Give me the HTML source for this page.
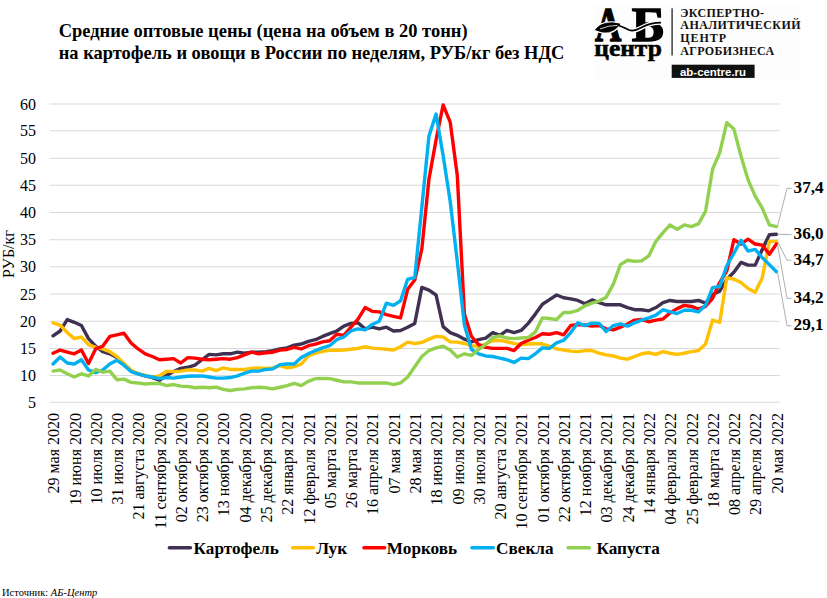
<!DOCTYPE html>
<html><head><meta charset="utf-8">
<style>
html,body{margin:0;padding:0;background:#fff;}
body{width:827px;height:598px;position:relative;overflow:hidden;}
svg{position:absolute;left:0;top:0;}
.t{font-family:"Liberation Serif",serif;font-size:16px;fill:#000;}
.ttl{font-family:"Liberation Serif",serif;font-size:18.45px;font-weight:bold;fill:#000;}
.vb{font-family:"Liberation Serif",serif;font-size:17.2px;font-weight:bold;fill:#000;}
.lgA{font-family:"Liberation Serif",serif;font-size:48px;font-weight:bold;fill:#000;stroke:#000;stroke-width:1.4px;}
.lgc{font-family:"Liberation Serif",serif;font-size:24px;font-weight:bold;fill:#000;stroke:#000;stroke-width:0.6px;}
.lgt{font-family:"Liberation Serif",serif;font-size:12px;font-weight:bold;fill:#111;}
.lgu{font-family:"Liberation Sans",sans-serif;font-size:11.6px;font-weight:bold;fill:#fff;}
.src{font-family:"Liberation Serif",serif;font-size:10.5px;fill:#000;}
</style></head><body>
<svg width="827" height="598" viewBox="0 0 827 598">
<text x="58.7" y="37.1" class="ttl">Средние оптовые цены (цена на объем в 20 тонн)</text>
<text x="58.7" y="58.8" class="ttl">на картофель и овощи в России по неделям, РУБ/кг без НДС</text>
<line x1="49.5" y1="402.30" x2="780.0" y2="402.30" stroke="#D9D9D9" stroke-width="1.05"/>
<line x1="49.5" y1="375.40" x2="780.0" y2="375.40" stroke="#D9D9D9" stroke-width="1.05"/>
<line x1="49.5" y1="348.40" x2="780.0" y2="348.40" stroke="#D9D9D9" stroke-width="1.05"/>
<line x1="49.5" y1="321.20" x2="780.0" y2="321.20" stroke="#D9D9D9" stroke-width="1.05"/>
<line x1="49.5" y1="293.90" x2="780.0" y2="293.90" stroke="#D9D9D9" stroke-width="1.05"/>
<line x1="49.5" y1="266.80" x2="780.0" y2="266.80" stroke="#D9D9D9" stroke-width="1.05"/>
<line x1="49.5" y1="239.70" x2="780.0" y2="239.70" stroke="#D9D9D9" stroke-width="1.05"/>
<line x1="49.5" y1="212.40" x2="780.0" y2="212.40" stroke="#D9D9D9" stroke-width="1.05"/>
<line x1="49.5" y1="185.30" x2="780.0" y2="185.30" stroke="#D9D9D9" stroke-width="1.05"/>
<line x1="49.5" y1="158.20" x2="780.0" y2="158.20" stroke="#D9D9D9" stroke-width="1.05"/>
<line x1="49.5" y1="130.70" x2="780.0" y2="130.70" stroke="#D9D9D9" stroke-width="1.05"/>
<line x1="49.5" y1="103.90" x2="780.0" y2="103.90" stroke="#D9D9D9" stroke-width="1.05"/>
<text x="35.9" y="407.90" text-anchor="end" class="t">5</text>
<text x="35.9" y="381.00" text-anchor="end" class="t">10</text>
<text x="35.9" y="354.00" text-anchor="end" class="t">15</text>
<text x="35.9" y="326.80" text-anchor="end" class="t">20</text>
<text x="35.9" y="299.50" text-anchor="end" class="t">25</text>
<text x="35.9" y="272.40" text-anchor="end" class="t">30</text>
<text x="35.9" y="245.30" text-anchor="end" class="t">35</text>
<text x="35.9" y="218.00" text-anchor="end" class="t">40</text>
<text x="35.9" y="190.90" text-anchor="end" class="t">45</text>
<text x="35.9" y="163.80" text-anchor="end" class="t">50</text>
<text x="35.9" y="136.30" text-anchor="end" class="t">55</text>
<text x="35.9" y="109.50" text-anchor="end" class="t">60</text>
<text transform="translate(59.25,413.0) rotate(-90)" text-anchor="end" class="t">29 мая 2020</text>
<text transform="translate(80.52,413.0) rotate(-90)" text-anchor="end" class="t">19 июня 2020</text>
<text transform="translate(101.80,413.0) rotate(-90)" text-anchor="end" class="t">10 июля 2020</text>
<text transform="translate(123.08,413.0) rotate(-90)" text-anchor="end" class="t">31 июля 2020</text>
<text transform="translate(144.35,413.0) rotate(-90)" text-anchor="end" class="t">21 августа 2020</text>
<text transform="translate(165.63,413.0) rotate(-90)" text-anchor="end" class="t">11 сентября 2020</text>
<text transform="translate(186.91,413.0) rotate(-90)" text-anchor="end" class="t">02 октября 2020</text>
<text transform="translate(208.18,413.0) rotate(-90)" text-anchor="end" class="t">23 октября 2020</text>
<text transform="translate(229.46,413.0) rotate(-90)" text-anchor="end" class="t">13 ноября 2020</text>
<text transform="translate(250.74,413.0) rotate(-90)" text-anchor="end" class="t">04 декабря 2020</text>
<text transform="translate(272.01,413.0) rotate(-90)" text-anchor="end" class="t">25 декабря 2020</text>
<text transform="translate(293.29,413.0) rotate(-90)" text-anchor="end" class="t">22 января 2021</text>
<text transform="translate(314.57,413.0) rotate(-90)" text-anchor="end" class="t">12 февраля 2021</text>
<text transform="translate(335.84,413.0) rotate(-90)" text-anchor="end" class="t">05 марта 2021</text>
<text transform="translate(357.12,413.0) rotate(-90)" text-anchor="end" class="t">26 марта 2021</text>
<text transform="translate(378.40,413.0) rotate(-90)" text-anchor="end" class="t">16 апреля 2021</text>
<text transform="translate(399.67,413.0) rotate(-90)" text-anchor="end" class="t">07 мая 2021</text>
<text transform="translate(420.95,413.0) rotate(-90)" text-anchor="end" class="t">28 мая 2021</text>
<text transform="translate(442.23,413.0) rotate(-90)" text-anchor="end" class="t">18 июня 2021</text>
<text transform="translate(463.50,413.0) rotate(-90)" text-anchor="end" class="t">09 июля 2021</text>
<text transform="translate(484.78,413.0) rotate(-90)" text-anchor="end" class="t">30 июля 2021</text>
<text transform="translate(506.06,413.0) rotate(-90)" text-anchor="end" class="t">20 августа 2021</text>
<text transform="translate(527.33,413.0) rotate(-90)" text-anchor="end" class="t">10 сентября 2021</text>
<text transform="translate(548.61,413.0) rotate(-90)" text-anchor="end" class="t">01 октября 2021</text>
<text transform="translate(569.89,413.0) rotate(-90)" text-anchor="end" class="t">22 октября 2021</text>
<text transform="translate(591.16,413.0) rotate(-90)" text-anchor="end" class="t">12 ноября 2021</text>
<text transform="translate(612.44,413.0) rotate(-90)" text-anchor="end" class="t">03 декабря 2021</text>
<text transform="translate(633.72,413.0) rotate(-90)" text-anchor="end" class="t">24 декабря 2021</text>
<text transform="translate(654.99,413.0) rotate(-90)" text-anchor="end" class="t">14 января 2022</text>
<text transform="translate(676.27,413.0) rotate(-90)" text-anchor="end" class="t">04 февраля 2022</text>
<text transform="translate(697.55,413.0) rotate(-90)" text-anchor="end" class="t">25 февраля 2022</text>
<text transform="translate(718.82,413.0) rotate(-90)" text-anchor="end" class="t">18 марта 2022</text>
<text transform="translate(740.10,413.0) rotate(-90)" text-anchor="end" class="t">08 апреля 2022</text>
<text transform="translate(761.38,413.0) rotate(-90)" text-anchor="end" class="t">29 апреля 2022</text>
<text transform="translate(782.65,413.0) rotate(-90)" text-anchor="end" class="t">20 мая 2022</text>
<text transform="translate(13.8,254) rotate(-90)" text-anchor="middle" class="t">РУБ/кг</text>
<path d="M53.05,335.89 L60.14,330.99 L67.23,319.56 L74.32,322.29 L81.42,325.55 L88.51,338.61 L95.60,346.22 L102.69,351.64 L109.78,353.80 L116.88,357.58 L123.97,364.06 L131.06,371.08 L138.15,373.78 L145.25,375.94 L152.34,377.55 L159.43,380.24 L166.52,375.40 L173.61,371.62 L180.71,368.38 L187.80,367.30 L194.89,365.14 L201.98,359.74 L209.08,354.34 L216.17,354.88 L223.26,353.80 L230.35,353.80 L237.44,352.18 L244.54,353.26 L251.63,352.18 L258.72,352.18 L265.81,351.64 L272.91,350.56 L280.00,348.94 L287.09,347.86 L294.18,345.14 L301.27,344.05 L308.37,341.33 L315.46,339.70 L322.55,336.43 L329.64,333.71 L336.74,330.99 L343.83,326.10 L350.92,323.38 L358.01,322.83 L365.10,328.82 L372.20,327.18 L379.29,328.82 L386.38,327.18 L393.47,330.99 L400.57,330.45 L407.66,327.18 L414.75,323.38 L421.84,287.40 L428.93,290.11 L436.03,294.99 L443.12,326.64 L450.21,332.62 L457.30,335.34 L464.40,339.15 L471.49,341.87 L478.58,339.70 L485.67,338.06 L492.76,332.62 L499.86,335.34 L506.95,330.45 L514.04,332.62 L521.13,330.45 L528.23,323.38 L535.32,314.10 L542.41,304.27 L549.50,299.63 L556.59,294.99 L563.69,297.72 L570.78,298.81 L577.87,300.45 L584.96,303.73 L592.06,299.91 L599.15,302.64 L606.24,304.82 L613.33,304.82 L620.42,304.82 L627.52,307.55 L634.61,309.73 L641.70,309.73 L648.79,310.83 L655.89,307.55 L662.98,302.64 L670.07,300.45 L677.16,301.54 L684.25,301.54 L691.35,301.54 L698.44,300.45 L705.53,303.18 L712.62,294.45 L719.72,291.19 L726.81,279.27 L733.90,272.22 L740.99,262.46 L748.08,265.17 L755.18,265.17 L762.27,249.46 L769.36,234.79 L776.45,234.24" fill="none" stroke="#403152" stroke-width="3.4" stroke-linejoin="round" stroke-linecap="round"/>
<path d="M53.05,322.83 L60.14,325.01 L67.23,332.62 L74.32,338.61 L81.42,336.98 L88.51,344.59 L95.60,347.31 L102.69,348.94 L109.78,351.64 L116.88,356.50 L123.97,363.52 L131.06,370.00 L138.15,373.78 L145.25,375.40 L152.34,377.01 L159.43,375.94 L166.52,371.08 L173.61,371.62 L180.71,371.08 L187.80,370.00 L194.89,370.00 L201.98,371.08 L209.08,368.38 L216.17,370.54 L223.26,367.84 L230.35,369.46 L237.44,369.46 L244.54,369.46 L251.63,368.38 L258.72,367.84 L265.81,368.38 L272.91,367.84 L280.00,365.68 L287.09,367.84 L294.18,366.76 L301.27,364.06 L308.37,355.96 L315.46,353.26 L322.55,351.37 L329.64,350.29 L336.74,350.29 L343.83,350.02 L350.92,349.21 L358.01,348.40 L365.10,346.77 L372.20,348.13 L379.29,348.67 L386.38,349.21 L393.47,350.02 L400.57,346.77 L407.66,342.14 L414.75,343.50 L421.84,342.42 L428.93,339.15 L436.03,336.43 L443.12,336.98 L450.21,341.87 L457.30,342.14 L464.40,343.50 L471.49,345.68 L478.58,346.22 L485.67,344.05 L492.76,340.78 L499.86,340.24 L506.95,341.87 L514.04,343.50 L521.13,344.59 L528.23,344.05 L535.32,343.50 L542.41,344.05 L549.50,346.22 L556.59,348.94 L563.69,350.02 L570.78,351.10 L577.87,351.64 L584.96,350.56 L592.06,350.56 L599.15,353.26 L606.24,354.88 L613.33,355.96 L620.42,358.12 L627.52,359.20 L634.61,356.50 L641.70,353.80 L648.79,352.72 L655.89,354.34 L662.98,351.64 L670.07,353.26 L677.16,354.34 L684.25,353.26 L691.35,351.64 L698.44,350.56 L705.53,344.05 L712.62,320.11 L719.72,322.29 L726.81,277.64 L733.90,279.27 L740.99,282.52 L748.08,288.48 L755.18,292.27 L762.27,277.64 L769.36,241.33 L776.45,241.33" fill="none" stroke="#FFC000" stroke-width="3.4" stroke-linejoin="round" stroke-linecap="round"/>
<path d="M53.05,353.26 L60.14,350.02 L67.23,352.18 L74.32,353.80 L81.42,350.02 L88.51,363.52 L95.60,348.94 L102.69,346.22 L109.78,336.43 L116.88,334.80 L123.97,333.17 L131.06,342.96 L138.15,348.94 L145.25,353.80 L152.34,356.50 L159.43,359.74 L166.52,359.20 L173.61,358.66 L180.71,362.98 L187.80,357.58 L194.89,358.12 L201.98,359.20 L209.08,359.74 L216.17,359.20 L223.26,358.66 L230.35,359.20 L237.44,357.58 L244.54,354.88 L251.63,352.18 L258.72,353.80 L265.81,352.72 L272.91,352.18 L280.00,350.02 L287.09,349.48 L294.18,347.31 L301.27,348.94 L308.37,345.68 L315.46,344.05 L322.55,341.87 L329.64,340.78 L336.74,334.26 L343.83,335.34 L350.92,327.18 L358.01,319.02 L365.10,307.55 L372.20,311.37 L379.29,311.92 L386.38,314.65 L393.47,316.29 L400.57,317.92 L407.66,289.29 L414.75,280.08 L421.84,248.91 L428.93,179.34 L436.03,140.05 L443.12,104.97 L450.21,122.12 L457.30,175.54 L464.40,314.10 L471.49,336.43 L478.58,344.59 L485.67,347.31 L492.76,348.40 L499.86,348.40 L506.95,348.40 L514.04,350.56 L521.13,343.50 L528.23,340.24 L535.32,337.52 L542.41,333.71 L549.50,334.26 L556.59,332.62 L563.69,334.80 L570.78,325.55 L577.87,324.46 L584.96,325.01 L592.06,326.10 L599.15,325.55 L606.24,328.82 L613.33,329.90 L620.42,327.18 L627.52,323.92 L634.61,320.11 L641.70,319.56 L648.79,321.74 L655.89,320.11 L662.98,319.02 L670.07,313.01 L677.16,308.64 L684.25,305.37 L691.35,306.46 L698.44,309.19 L705.53,306.46 L712.62,298.27 L719.72,282.52 L726.81,270.87 L733.90,239.70 L740.99,244.04 L748.08,239.15 L755.18,244.04 L762.27,245.12 L769.36,254.33 L776.45,244.04" fill="none" stroke="#FF0000" stroke-width="3.4" stroke-linejoin="round" stroke-linecap="round"/>
<path d="M53.05,364.06 L60.14,357.04 L67.23,362.98 L74.32,364.06 L81.42,359.74 L88.51,370.00 L95.60,372.70 L102.69,370.00 L109.78,364.06 L116.88,360.28 L123.97,365.14 L131.06,371.62 L138.15,373.78 L145.25,375.94 L152.34,377.01 L159.43,378.63 L166.52,377.55 L173.61,378.09 L180.71,377.01 L187.80,376.21 L194.89,375.94 L201.98,375.94 L209.08,377.01 L216.17,378.09 L223.26,378.09 L230.35,377.55 L237.44,375.94 L244.54,373.24 L251.63,371.08 L258.72,371.08 L265.81,369.46 L272.91,368.92 L280.00,364.60 L287.09,364.06 L294.18,364.06 L301.27,357.58 L308.37,353.80 L315.46,350.56 L322.55,347.86 L329.64,345.68 L336.74,339.70 L343.83,336.98 L350.92,330.99 L358.01,328.82 L365.10,329.90 L372.20,324.46 L379.29,321.20 L386.38,303.18 L393.47,305.37 L400.57,300.72 L407.66,279.27 L414.75,277.64 L421.84,206.98 L428.93,136.20 L436.03,114.08 L443.12,155.45 L450.21,201.56 L457.30,261.38 L464.40,325.01 L471.49,349.48 L478.58,353.80 L485.67,355.96 L492.76,356.50 L499.86,358.12 L506.95,359.74 L514.04,362.44 L521.13,358.12 L528.23,358.66 L535.32,353.80 L542.41,347.86 L549.50,348.40 L556.59,342.96 L563.69,340.24 L570.78,332.62 L577.87,322.83 L584.96,325.55 L592.06,323.10 L599.15,323.38 L606.24,331.54 L613.33,325.55 L620.42,323.92 L627.52,326.10 L634.61,322.83 L641.70,320.11 L648.79,317.92 L655.89,315.19 L662.98,309.73 L670.07,311.92 L677.16,313.56 L684.25,310.28 L691.35,310.28 L698.44,311.92 L705.53,305.37 L712.62,287.67 L719.72,286.31 L726.81,265.72 L733.90,253.25 L740.99,240.24 L748.08,251.08 L755.18,249.46 L762.27,257.59 L769.36,264.63 L776.45,271.68" fill="none" stroke="#00B0F0" stroke-width="3.4" stroke-linejoin="round" stroke-linecap="round"/>
<path d="M53.05,371.08 L60.14,370.00 L67.23,373.78 L74.32,377.01 L81.42,373.78 L88.51,375.94 L95.60,369.46 L102.69,372.16 L109.78,371.08 L116.88,379.70 L123.97,379.17 L131.06,382.39 L138.15,382.93 L145.25,384.01 L152.34,383.47 L159.43,383.47 L166.52,385.62 L173.61,384.55 L180.71,386.16 L187.80,386.43 L194.89,387.77 L201.98,387.24 L209.08,387.77 L216.17,387.24 L223.26,389.39 L230.35,390.46 L237.44,389.39 L244.54,388.85 L251.63,387.77 L258.72,387.24 L265.81,387.77 L272.91,388.85 L280.00,387.24 L287.09,385.62 L294.18,383.47 L301.27,385.62 L308.37,381.32 L315.46,378.63 L322.55,378.36 L329.64,378.63 L336.74,380.24 L343.83,381.86 L350.92,381.86 L358.01,382.93 L365.10,382.93 L372.20,382.93 L379.29,382.93 L386.38,382.93 L393.47,384.55 L400.57,382.93 L407.66,377.01 L414.75,366.76 L421.84,356.50 L428.93,350.56 L436.03,347.86 L443.12,346.22 L450.21,350.02 L457.30,357.04 L464.40,353.80 L471.49,355.42 L478.58,349.48 L485.67,344.59 L492.76,337.52 L499.86,335.89 L506.95,338.06 L514.04,338.61 L521.13,338.06 L528.23,337.52 L535.32,332.08 L542.41,317.92 L549.50,318.47 L556.59,319.56 L563.69,312.46 L570.78,312.46 L577.87,310.28 L584.96,305.91 L592.06,303.18 L599.15,301.00 L606.24,297.18 L613.33,284.14 L620.42,264.63 L627.52,260.30 L634.61,261.38 L641.70,260.84 L648.79,255.96 L655.89,241.33 L662.98,232.60 L670.07,224.96 L677.16,229.33 L684.25,224.96 L691.35,226.60 L698.44,223.87 L705.53,211.32 L712.62,169.04 L719.72,152.70 L726.81,122.66 L733.90,129.09 L740.99,156.00 L748.08,179.88 L755.18,196.14 L762.27,208.06 L769.36,224.96 L776.45,226.60" fill="none" stroke="#92D050" stroke-width="3.4" stroke-linejoin="round" stroke-linecap="round"/>
<polyline points="777.45,226.60 787,188.3 791.5,188.3" fill="none" stroke="#A6A6A6" stroke-width="0.9"/>
<text x="793.6" y="192.90" class="vb">37,4</text>
<polyline points="777.45,234.24 787,234.6 791.5,234.6" fill="none" stroke="#A6A6A6" stroke-width="0.9"/>
<text x="793.6" y="239.20" class="vb">36,0</text>
<polyline points="777.45,241.33 787,260.2 791.5,260.2" fill="none" stroke="#A6A6A6" stroke-width="0.9"/>
<text x="793.6" y="264.80" class="vb">34,7</text>
<polyline points="777.45,244.04 787,298.3 791.5,298.3" fill="none" stroke="#A6A6A6" stroke-width="0.9"/>
<text x="793.6" y="302.90" class="vb">34,2</text>
<polyline points="777.45,271.68 787,325.8 791.5,325.8" fill="none" stroke="#A6A6A6" stroke-width="0.9"/>
<text x="793.6" y="330.40" class="vb">29,1</text>
<line x1="169.29999999999998" y1="547.7" x2="190.5" y2="547.7" stroke="#403152" stroke-width="3.4" stroke-linecap="round"/>
<text x="193.6" y="553.7" class="vb">Картофель</text>
<line x1="292.59999999999997" y1="547.7" x2="313.40000000000003" y2="547.7" stroke="#FFC000" stroke-width="3.4" stroke-linecap="round"/>
<text x="316.2" y="553.7" class="vb">Лук</text>
<line x1="363.9" y1="547.7" x2="384.7" y2="547.7" stroke="#FF0000" stroke-width="3.4" stroke-linecap="round"/>
<text x="386.79999999999995" y="553.7" class="vb">Морковь</text>
<line x1="471.9" y1="547.7" x2="493.40000000000003" y2="547.7" stroke="#00B0F0" stroke-width="3.4" stroke-linecap="round"/>
<text x="496.09999999999997" y="553.7" class="vb">Свекла</text>
<line x1="568.1" y1="547.7" x2="589.4" y2="547.7" stroke="#92D050" stroke-width="3.4" stroke-linecap="round"/>
<text x="596.4" y="553.7" class="vb">Капуста</text>

<rect x="594" y="4" width="207" height="75" fill="#FDFDFD"/>
<g>
 <text transform="translate(595.0,40.7) scale(0.76,1)" class="lgA">А</text>
 <text transform="translate(631.8,40.7) scale(1.05,1)" class="lgA">Б</text>
 <path d="M595.3,29.8 Q603,19.8 620,24.0 Q611,37 595.3,29.8 Z" fill="#fff" stroke="#fff" stroke-width="3.2" stroke-linejoin="round"/>
 <path d="M619,25.6 Q624,27.2 629,30 Q634,31.8 641.5,27.6 Q650,22.6 661,22.6" fill="none" stroke="#fff" stroke-width="4.4" stroke-linecap="round"/>
 <path d="M595.3,29.8 Q603,19.8 620,24.0 Q611,37 595.3,29.8 Z" fill="#000" stroke="#000" stroke-width="0.8" stroke-linejoin="round"/>
 <path d="M618,25.2 Q624,27.2 629,30 Q634,31.8 641.5,27.6 Q650,22.6 661,22.6" fill="none" stroke="#000" stroke-width="1.7"/>
 <path d="M600,28.9 Q609,25.2 617.5,25.4" fill="none" stroke="#fff" stroke-width="0.8"/>
 <text x="594.3" y="55.8" class="lgc" textLength="67.5" lengthAdjust="spacingAndGlyphs">центр</text>
 <rect x="671.4" y="8.3" width="1.4" height="47.2" fill="#333"/>
 <text x="680.3" y="16.5" class="lgt" textLength="83.8" lengthAdjust="spacing">ЭКСПЕРТНО-</text>
 <text x="680.3" y="29.3" class="lgt" textLength="120.2" lengthAdjust="spacing">АНАЛИТИЧЕСКИЙ</text>
 <text x="680.3" y="42.1" class="lgt" textLength="45.8" lengthAdjust="spacing">ЦЕНТР</text>
 <text x="680.3" y="54.9" class="lgt" textLength="93.8" lengthAdjust="spacing">АГРОБИЗНЕСА</text>
 <rect x="671.7" y="64.7" width="82.9" height="13.2" fill="#111"/>
 <text x="680" y="75.6" class="lgu" textLength="66" lengthAdjust="spacingAndGlyphs">ab-centre.ru</text>
</g>
<text x="2" y="595.6" class="src">Источник: <tspan font-style="italic">АБ-Центр</tspan></text>
</svg>
</body></html>
